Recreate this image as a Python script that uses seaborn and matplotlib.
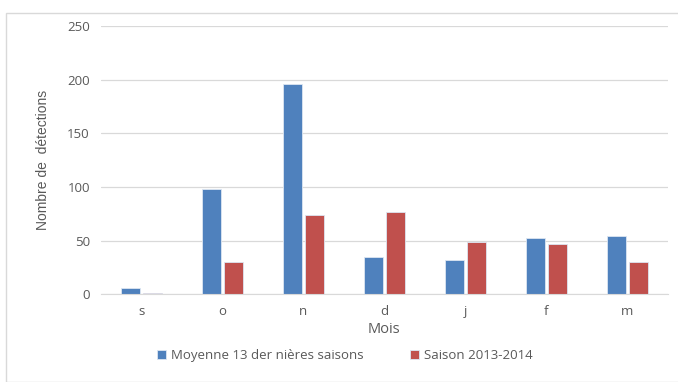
import pandas as pd
import numpy as np
import seaborn as sns
import matplotlib.pyplot as plt
from matplotlib.patches import Rectangle
from matplotlib.ticker import FixedLocator

mois = ['s', 'o', 'n', 'd', 'j', 'f', 'm']
moyenne = [6, 98, 196, 35, 32, 52, 54]
saison = [1, 30, 74, 77, 49, 47, 30]
series = ['Moyenne 13 der nières saisons', 'Saison 2013-2014']

df = pd.DataFrame({'Mois': mois * 2,
                   'Valeur': moyenne + saison,
                   'Serie': [series[0]] * len(mois) + [series[1]] * len(mois)})

sns.set_style('white')
plt.rcParams['font.family'] = ['Open Sans', 'DejaVu Sans']
txtcol = '#595959'

fig = plt.figure(figsize=(6.78, 3.82), dpi=100)
ax = fig.add_axes([0.149, 0.230, 0.836, 0.702])
sns.barplot(data=df, x='Mois', y='Valeur', hue='Serie', order=mois,
            palette=['#4F81BD', '#C0504D'], saturation=1, width=0.55, gap=0.15,
            edgecolor='#dce6f2', linewidth=0.6, ax=ax)

ax.set_ylim(0, 250)
ax.set_yticks(range(0, 251, 50))
ax.set_xlim(-0.5, len(mois) - 0.5)
ax.yaxis.grid(True, color='#d9d9d9', lw=0.9)
ax.set_axisbelow(True)
for s in ['top', 'right', 'left']:
    ax.spines[s].set_visible(False)
ax.spines['bottom'].set_color('#d9d9d9')
ax.tick_params(axis='both', which='major', length=0, colors=txtcol, labelsize=9.5, pad=8)
ax.xaxis.set_minor_locator(FixedLocator(np.arange(-0.5, len(mois), 1)))
ax.tick_params(axis='x', which='minor', length=5, color='#d9d9d9')
ax.set_xlabel('Mois', color=txtcol, fontsize=10.5, labelpad=3)
ax.set_ylabel('Nombre de  détections', color=txtcol, fontsize=10,
              family=['Liberation Sans Narrow', 'Liberation Sans'], labelpad=12)

handles, labels = ax.get_legend_handles_labels()
ax.legend(handles, labels, loc='upper center', bbox_to_anchor=(0.43, -0.16), ncol=2,
          frameon=False, fontsize=9.5, handlelength=0.7, handleheight=0.7,
          columnspacing=3.5, handletextpad=0.4, labelcolor=txtcol)

fig.patches.append(Rectangle((6 / 678, 0), 1.0, 1 - 13 / 382, transform=fig.transFigure,
                             fill=False, edgecolor='#d9d9d9', lw=1))
fig.savefig('out.png', dpi=100)
